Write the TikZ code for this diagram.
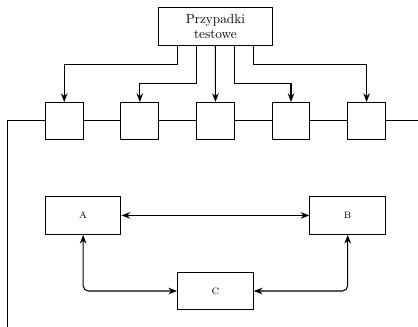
\documentclass[tikz,border=0pt]{standalone}
\usepackage{tikz}
\usetikzlibrary{positioning,arrows.meta}

\begin{document}
\begin{tikzpicture}[>=Stealth, thick,
    cell/.style={draw, minimum width=1cm, minimum height=1cm, outer sep=0pt},
    block/.style={draw, minimum width=2cm, minimum height=1cm, font=\scriptsize}]
    \useasboundingbox (0,0) rectangle (11.06,8.65);

    % Test cases
    \node[draw, minimum width=3cm, minimum height=1cm, align=center] (tests) at (5.7,7.95) {Przypadki\\testowe};

    % Pipeline
    \node[cell] (s1) at (1.7,5.45) {};
    \node[cell, right=1cm of s1] (s2) {};
    \node[cell, right=1cm of s2] (s3) {};
    \node[cell, right=1cm of s3] (s4) {};
    \node[cell, right=1cm of s4] (s5) {};
    \coordinate (in) at (0.2,5.45);
    \coordinate (down) at (0.2,0);
    \coordinate (out) at (11.06,5.45);
    \draw (down) -- (in) -- (s1.west);
    \draw (s1) -- (s2) (s2) -- (s3) (s3) -- (s4) (s4) -- (s5);
    \draw (s5) -- (out);

    % Feeds
    \draw[->] ([xshift=-1cm]tests.south) -- ++(0,-0.5) -| (s1.north);
    \draw[->] ([xshift=-0.5cm]tests.south) -- ++(0,-1) -| (s2.north);
    \draw[->] (tests.south) -- (s3.north);
    \draw[->] ([xshift=0.5cm]tests.south) -- ++(0,-1) -| (s4.north);
    \draw[->] ([xshift=1cm]tests.south) -- ++(0,-0.5) -| (s5.north);

    % A, B, C
    \node[block] (a) at (2.2,2.95) {A};
    \node[block] (b) at (9.2,2.95) {B};
    \node[block] (c) at (5.7,0.95) {C};
    \draw[<->] (a) -- (b);
    \draw[<->, rounded corners] (a.south) |- (c.west);
    \draw[<->, rounded corners] (b.south) |- (c.east);
\end{tikzpicture}
\end{document}
